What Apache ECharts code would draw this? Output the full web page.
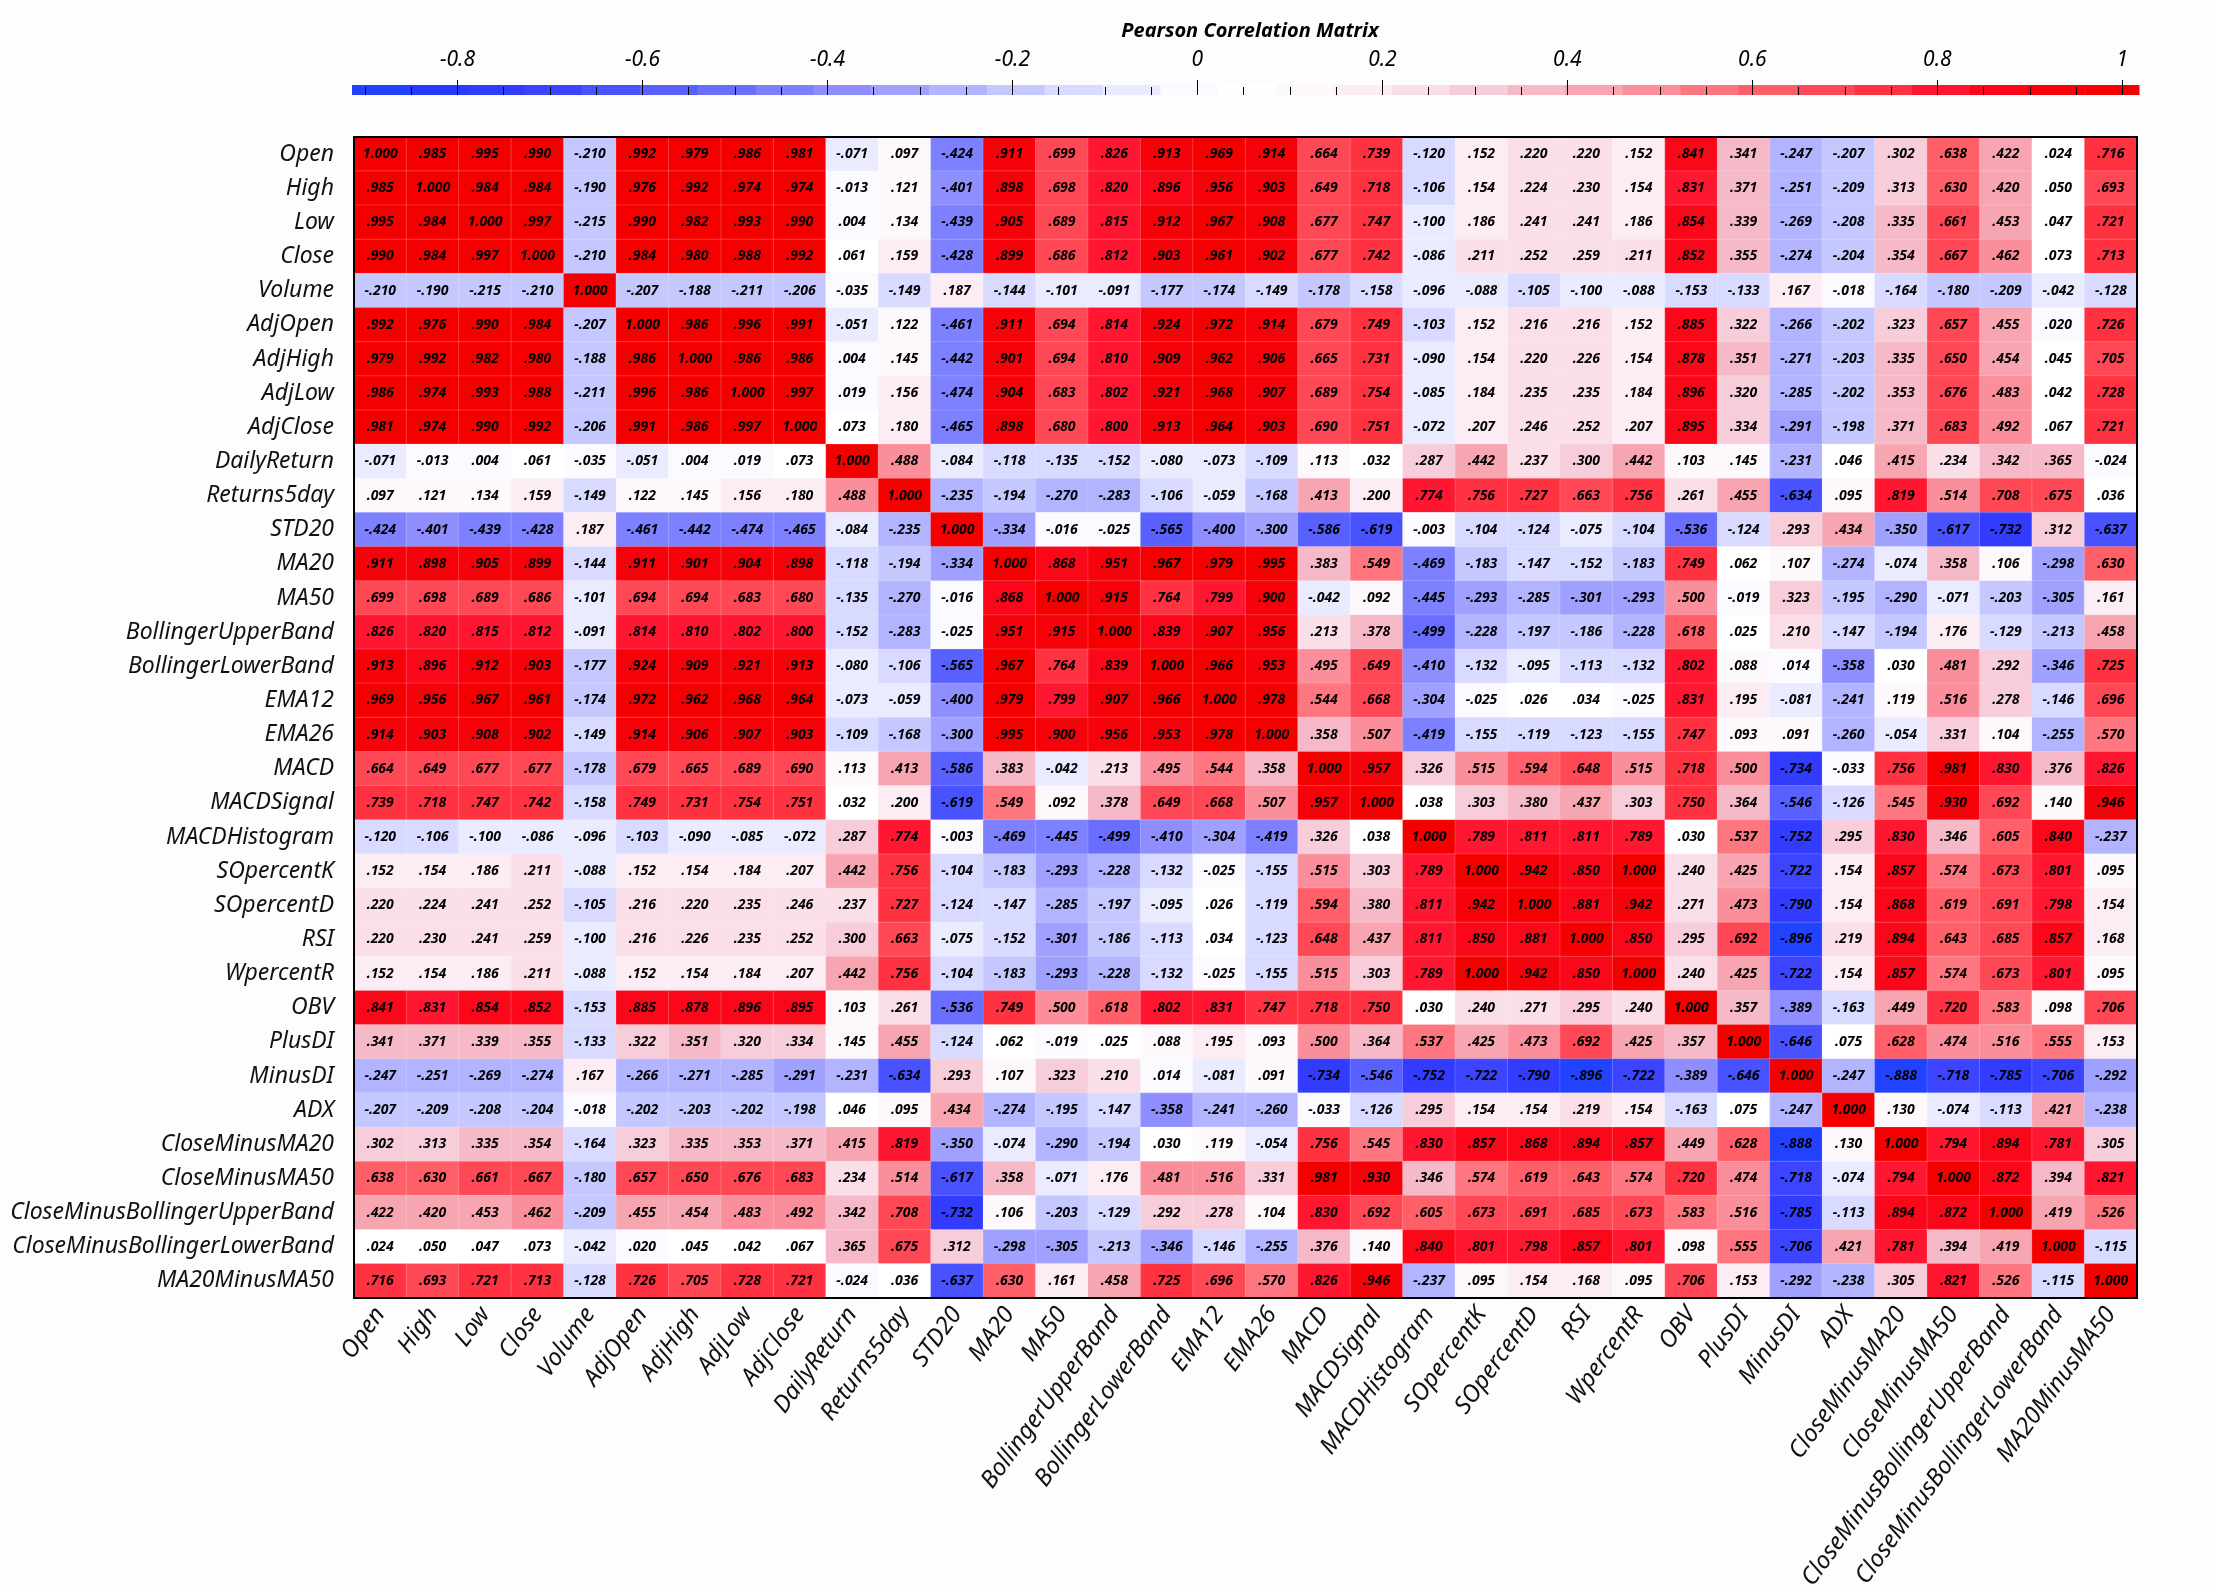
<!DOCTYPE html>
<html><head><meta charset="utf-8">
<script src="https://cdn.jsdelivr.net/npm/echarts@6/dist/echarts.min.js"></script>
<style>html,body{margin:0;padding:0;background:#fdfdfe}#c{width:2216px;height:1592px}</style>
</head><body><div id="c"></div>
<script>
const variables = ["Open","High","Low","Close","Volume","AdjOpen","AdjHigh","AdjLow","AdjClose","DailyReturn","Returns5day","STD20","MA20","MA50","BollingerUpperBand","BollingerLowerBand","EMA12","EMA26","MACD","MACDSignal","MACDHistogram","SOpercentK","SOpercentD","RSI","WpercentR","OBV","PlusDI","MinusDI","ADX","CloseMinusMA20","CloseMinusMA50","CloseMinusBollingerUpperBand","CloseMinusBollingerLowerBand","MA20MinusMA50"];

const rOpen = [1.000,.985,.995,.990,-.210,.992,.979,.986,.981,-.071,.097,-.424,.911,.699,.826,.913,.969,.914,.664,.739,-.120,.152,.220,.220,.152,.841,.341,-.247,-.207,.302,.638,.422,.024,.716];
const rHigh = [.985,1.000,.984,.984,-.190,.976,.992,.974,.974,-.013,.121,-.401,.898,.698,.820,.896,.956,.903,.649,.718,-.106,.154,.224,.230,.154,.831,.371,-.251,-.209,.313,.630,.420,.050,.693];
const rLow = [.995,.984,1.000,.997,-.215,.990,.982,.993,.990,.004,.134,-.439,.905,.689,.815,.912,.967,.908,.677,.747,-.100,.186,.241,.241,.186,.854,.339,-.269,-.208,.335,.661,.453,.047,.721];
const rClose = [.990,.984,.997,1.000,-.210,.984,.980,.988,.992,.061,.159,-.428,.899,.686,.812,.903,.961,.902,.677,.742,-.086,.211,.252,.259,.211,.852,.355,-.274,-.204,.354,.667,.462,.073,.713];
const rVolume = [-.210,-.190,-.215,-.210,1.000,-.207,-.188,-.211,-.206,-.035,-.149,.187,-.144,-.101,-.091,-.177,-.174,-.149,-.178,-.158,-.096,-.088,-.105,-.100,-.088,-.153,-.133,.167,-.018,-.164,-.180,-.209,-.042,-.128];
const rAdjOpen = [.992,.976,.990,.984,-.207,1.000,.986,.996,.991,-.051,.122,-.461,.911,.694,.814,.924,.972,.914,.679,.749,-.103,.152,.216,.216,.152,.885,.322,-.266,-.202,.323,.657,.455,.020,.726];
const rAdjHigh = [.979,.992,.982,.980,-.188,.986,1.000,.986,.986,.004,.145,-.442,.901,.694,.810,.909,.962,.906,.665,.731,-.090,.154,.220,.226,.154,.878,.351,-.271,-.203,.335,.650,.454,.045,.705];
const rAdjLow = [.986,.974,.993,.988,-.211,.996,.986,1.000,.997,.019,.156,-.474,.904,.683,.802,.921,.968,.907,.689,.754,-.085,.184,.235,.235,.184,.896,.320,-.285,-.202,.353,.676,.483,.042,.728];
const rAdjClose = [.981,.974,.990,.992,-.206,.991,.986,.997,1.000,.073,.180,-.465,.898,.680,.800,.913,.964,.903,.690,.751,-.072,.207,.246,.252,.207,.895,.334,-.291,-.198,.371,.683,.492,.067,.721];
const rDailyReturn = [-.071,-.013,.004,.061,-.035,-.051,.004,.019,.073,1.000,.488,-.084,-.118,-.135,-.152,-.080,-.073,-.109,.113,.032,.287,.442,.237,.300,.442,.103,.145,-.231,.046,.415,.234,.342,.365,-.024];
const rReturns5day = [.097,.121,.134,.159,-.149,.122,.145,.156,.180,.488,1.000,-.235,-.194,-.270,-.283,-.106,-.059,-.168,.413,.200,.774,.756,.727,.663,.756,.261,.455,-.634,.095,.819,.514,.708,.675,.036];
const rSTD20 = [-.424,-.401,-.439,-.428,.187,-.461,-.442,-.474,-.465,-.084,-.235,1.000,-.334,-.016,-.025,-.565,-.400,-.300,-.586,-.619,-.003,-.104,-.124,-.075,-.104,-.536,-.124,.293,.434,-.350,-.617,-.732,.312,-.637];
const rMA20 = [.911,.898,.905,.899,-.144,.911,.901,.904,.898,-.118,-.194,-.334,1.000,.868,.951,.967,.979,.995,.383,.549,-.469,-.183,-.147,-.152,-.183,.749,.062,.107,-.274,-.074,.358,.106,-.298,.630];
const rMA50 = [.699,.698,.689,.686,-.101,.694,.694,.683,.680,-.135,-.270,-.016,.868,1.000,.915,.764,.799,.900,-.042,.092,-.445,-.293,-.285,-.301,-.293,.500,-.019,.323,-.195,-.290,-.071,-.203,-.305,.161];
const rBollingerUpperBand = [.826,.820,.815,.812,-.091,.814,.810,.802,.800,-.152,-.283,-.025,.951,.915,1.000,.839,.907,.956,.213,.378,-.499,-.228,-.197,-.186,-.228,.618,.025,.210,-.147,-.194,.176,-.129,-.213,.458];
const rBollingerLowerBand = [.913,.896,.912,.903,-.177,.924,.909,.921,.913,-.080,-.106,-.565,.967,.764,.839,1.000,.966,.953,.495,.649,-.410,-.132,-.095,-.113,-.132,.802,.088,.014,-.358,.030,.481,.292,-.346,.725];
const rEMA12 = [.969,.956,.967,.961,-.174,.972,.962,.968,.964,-.073,-.059,-.400,.979,.799,.907,.966,1.000,.978,.544,.668,-.304,-.025,.026,.034,-.025,.831,.195,-.081,-.241,.119,.516,.278,-.146,.696];
const rEMA26 = [.914,.903,.908,.902,-.149,.914,.906,.907,.903,-.109,-.168,-.300,.995,.900,.956,.953,.978,1.000,.358,.507,-.419,-.155,-.119,-.123,-.155,.747,.093,.091,-.260,-.054,.331,.104,-.255,.570];
const rMACD = [.664,.649,.677,.677,-.178,.679,.665,.689,.690,.113,.413,-.586,.383,-.042,.213,.495,.544,.358,1.000,.957,.326,.515,.594,.648,.515,.718,.500,-.734,-.033,.756,.981,.830,.376,.826];
const rMACDSignal = [.739,.718,.747,.742,-.158,.749,.731,.754,.751,.032,.200,-.619,.549,.092,.378,.649,.668,.507,.957,1.000,.038,.303,.380,.437,.303,.750,.364,-.546,-.126,.545,.930,.692,.140,.946];
const rMACDHistogram = [-.120,-.106,-.100,-.086,-.096,-.103,-.090,-.085,-.072,.287,.774,-.003,-.469,-.445,-.499,-.410,-.304,-.419,.326,.038,1.000,.789,.811,.811,.789,.030,.537,-.752,.295,.830,.346,.605,.840,-.237];
const rSOpercentK = [.152,.154,.186,.211,-.088,.152,.154,.184,.207,.442,.756,-.104,-.183,-.293,-.228,-.132,-.025,-.155,.515,.303,.789,1.000,.942,.850,1.000,.240,.425,-.722,.154,.857,.574,.673,.801,.095];
const rSOpercentD = [.220,.224,.241,.252,-.105,.216,.220,.235,.246,.237,.727,-.124,-.147,-.285,-.197,-.095,.026,-.119,.594,.380,.811,.942,1.000,.881,.942,.271,.473,-.790,.154,.868,.619,.691,.798,.154];
const rRSI = [.220,.230,.241,.259,-.100,.216,.226,.235,.252,.300,.663,-.075,-.152,-.301,-.186,-.113,.034,-.123,.648,.437,.811,.850,.881,1.000,.850,.295,.692,-.896,.219,.894,.643,.685,.857,.168];
const rWpercentR = [.152,.154,.186,.211,-.088,.152,.154,.184,.207,.442,.756,-.104,-.183,-.293,-.228,-.132,-.025,-.155,.515,.303,.789,1.000,.942,.850,1.000,.240,.425,-.722,.154,.857,.574,.673,.801,.095];
const rOBV = [.841,.831,.854,.852,-.153,.885,.878,.896,.895,.103,.261,-.536,.749,.500,.618,.802,.831,.747,.718,.750,.030,.240,.271,.295,.240,1.000,.357,-.389,-.163,.449,.720,.583,.098,.706];
const rPlusDI = [.341,.371,.339,.355,-.133,.322,.351,.320,.334,.145,.455,-.124,.062,-.019,.025,.088,.195,.093,.500,.364,.537,.425,.473,.692,.425,.357,1.000,-.646,.075,.628,.474,.516,.555,.153];
const rMinusDI = [-.247,-.251,-.269,-.274,.167,-.266,-.271,-.285,-.291,-.231,-.634,.293,.107,.323,.210,.014,-.081,.091,-.734,-.546,-.752,-.722,-.790,-.896,-.722,-.389,-.646,1.000,-.247,-.888,-.718,-.785,-.706,-.292];
const rADX = [-.207,-.209,-.208,-.204,-.018,-.202,-.203,-.202,-.198,.046,.095,.434,-.274,-.195,-.147,-.358,-.241,-.260,-.033,-.126,.295,.154,.154,.219,.154,-.163,.075,-.247,1.000,.130,-.074,-.113,.421,-.238];
const rCloseMinusMA20 = [.302,.313,.335,.354,-.164,.323,.335,.353,.371,.415,.819,-.350,-.074,-.290,-.194,.030,.119,-.054,.756,.545,.830,.857,.868,.894,.857,.449,.628,-.888,.130,1.000,.794,.894,.781,.305];
const rCloseMinusMA50 = [.638,.630,.661,.667,-.180,.657,.650,.676,.683,.234,.514,-.617,.358,-.071,.176,.481,.516,.331,.981,.930,.346,.574,.619,.643,.574,.720,.474,-.718,-.074,.794,1.000,.872,.394,.821];
const rCloseMinusBollingerUpperBand = [.422,.420,.453,.462,-.209,.455,.454,.483,.492,.342,.708,-.732,.106,-.203,-.129,.292,.278,.104,.830,.692,.605,.673,.691,.685,.673,.583,.516,-.785,-.113,.894,.872,1.000,.419,.526];
const rCloseMinusBollingerLowerBand = [.024,.050,.047,.073,-.042,.020,.045,.042,.067,.365,.675,.312,-.298,-.305,-.213,-.346,-.146,-.255,.376,.140,.840,.801,.798,.857,.801,.098,.555,-.706,.421,.781,.394,.419,1.000,-.115];
const rMA20MinusMA50 = [.716,.693,.721,.713,-.128,.726,.705,.728,.721,-.024,.036,-.637,.630,.161,.458,.725,.696,.570,.826,.946,-.237,.095,.154,.168,.095,.706,.153,-.292,-.238,.305,.821,.526,-.115,1.000];

const matrixRows = [rOpen,rHigh,rLow,rClose,rVolume,rAdjOpen,rAdjHigh,rAdjLow,rAdjClose,rDailyReturn,rReturns5day,rSTD20,rMA20,rMA50,rBollingerUpperBand,rBollingerLowerBand,rEMA12,rEMA26,rMACD,rMACDSignal,rMACDHistogram,rSOpercentK,rSOpercentD,rRSI,rWpercentR,rOBV,rPlusDI,rMinusDI,rADX,rCloseMinusMA20,rCloseMinusMA50,rCloseMinusBollingerUpperBand,rCloseMinusBollingerLowerBand,rMA20MinusMA50];

const colorbarMin = -0.914, colorbarMax = 1.018;
const colorbarTicks = [-0.8,-0.6,-0.4,-0.2,0,0.2,0.4,0.6,0.8,1];
const colorbarMinorTicks = [-0.9,-0.85,-0.75,-0.7,-0.65,-0.55,-0.5,-0.45,-0.35,-0.3,-0.25,-0.15,-0.1,-0.05,0.05,0.1,0.15,0.25,0.3,0.35,0.45,0.5,0.55,0.65,0.7,0.75,0.85,0.9,0.95];
const binEdges = [-0.915,-0.8525,-0.79,-0.7275,-0.665,-0.6025,-0.54,-0.4775,-0.415,-0.3525,-0.29,-0.2275,-0.165,-0.1025,-0.04,0.0225,0.085,0.1475,0.21,0.2725,0.335,0.3975,0.46,0.5225,0.585,0.6475,0.71,0.7725,0.835,0.8975,0.96,1.0225];
const binColors = ['#2142ff','#283aff','#323cff','#3c44ff','#4852ff','#5860ff','#696eff','#7d80ff','#8e8eff','#a0a0ff','#b2b4ff','#c5c7ff','#d8daff','#eaebff','#fafaff','#ffffff','#fdf8fc','#fcecf4','#fadee8','#f8cdda','#f6b9c8','#f8a5b2','#fa8e9a','#fd7680','#ff5f69','#ff4855','#ff3241','#ff1630','#fa0819','#f6020a','#f50000'];

const FONT = "'Noto Sans', 'Open Sans', sans-serif";

const heatData = [];
matrixRows.forEach((row, yi) => row.forEach((v, xi) => heatData.push([xi, yi, v])));

const pieces = binColors.map((c, i) => ({gte: binEdges[i], lt: binEdges[i + 1], color: c}));

const barData = [];
for (let i = 0; i < binColors.length; i++) {
  const a = Math.max(binEdges[i], colorbarMin), b = Math.min(binEdges[i + 1], colorbarMax);
  if (b > a) barData.push([a, b, (binEdges[i] + binEdges[i + 1]) / 2]);
}

function fmt(v) {
  return v.toFixed(3).replace(/^(-?)0\./, '$1.');
}

const chart = echarts.init(document.getElementById('c'), null, {renderer: 'canvas'});
chart.setOption({
  backgroundColor: '#fdfdfe',
  animation: false,
  title: {
    text: 'Pearson Correlation Matrix', left: 1245, top: 16, textAlign: 'center',
    textStyle: {fontFamily: FONT, fontSize: 20, fontWeight: 'bold', fontStyle: 'italic', color: '#000'}
  },
  visualMap: {
    type: 'piecewise', show: false, dimension: 2, seriesIndex: [0, 1], pieces: pieces
  },
  grid: [
    {left: 354, top: 137, width: 1783, height: 1161, containLabel: false, outerBoundsMode: 'none'},
    {left: 352, top: 85, width: 1787, height: 10, containLabel: false, outerBoundsMode: 'none'}
  ],
  xAxis: [
    {type: 'category', gridIndex: 0, data: variables, position: 'bottom',
     axisLine: {lineStyle: {color: '#000', width: 2}},
     axisTick: {length: 12, lineStyle: {color: '#000', width: 1.5}},
     axisLabel: {rotate: 54, margin: 12, fontFamily: FONT, fontSize: 24, fontStyle: 'italic', color: '#111'},
     splitLine: {show: false}, z: 5},
    {type: 'category', gridIndex: 0, data: variables, position: 'top',
     axisLine: {lineStyle: {color: '#000', width: 2}}, axisTick: {show: false}, axisLabel: {show: false}, z: 5},
    {type: 'value', gridIndex: 1, min: colorbarMin, max: colorbarMax, position: 'bottom',
     axisLine: {show: false}, splitLine: {show: false}, axisLabel: {show: false},
     axisTick: {show: true, inside: true, length: 15, customValues: colorbarTicks, lineStyle: {color: '#000', width: 1}}, z: 10},
    {type: 'value', gridIndex: 1, min: colorbarMin, max: colorbarMax, position: 'bottom',
     axisLine: {show: false}, splitLine: {show: false}, axisLabel: {show: false},
     axisTick: {show: true, inside: true, length: 8, customValues: colorbarMinorTicks, lineStyle: {color: '#000', width: 1}}, z: 10},
    {type: 'value', gridIndex: 1, min: colorbarMin, max: colorbarMax, position: 'top',
     axisLine: {show: false}, splitLine: {show: false}, axisTick: {show: false},
     axisLabel: {show: true, customValues: colorbarTicks, margin: 14, fontFamily: FONT, fontSize: 21, fontStyle: 'italic', color: '#000'}}
  ],
  yAxis: [
    {type: 'category', gridIndex: 0, data: variables, inverse: true, position: 'left',
     axisLine: {lineStyle: {color: '#000', width: 2}},
     axisTick: {length: 10, lineStyle: {color: '#000', width: 1.5}},
     axisLabel: {margin: 20, fontFamily: FONT, fontSize: 23, fontStyle: 'italic', color: '#111'},
     splitLine: {show: false}, z: 5},
    {type: 'category', gridIndex: 0, data: variables, inverse: true, position: 'right',
     axisLine: {lineStyle: {color: '#000', width: 2}}, axisTick: {show: false}, axisLabel: {show: false}, z: 5},
    {type: 'value', gridIndex: 1, min: 0, max: 1, show: false}
  ],
  series: [
    {type: 'heatmap', xAxisIndex: 0, yAxisIndex: 0, data: heatData,
     itemStyle: {borderColor: 'rgba(255,255,255,0.18)', borderWidth: 1},
     label: {show: true, formatter: p => fmt(p.value[2]), fontFamily: FONT, fontSize: 14, fontWeight: 'bold', fontStyle: 'italic', color: '#000'},
     emphasis: {disabled: true}},
    {type: 'custom', xAxisIndex: 2, yAxisIndex: 2, data: barData,
     renderItem: function (params, api) {
       const p0 = api.coord([api.value(0), 0]);
       const p1 = api.coord([api.value(1), 1]);
       return {type: 'rect', shape: {x: p0[0], y: p1[1], width: p1[0] - p0[0] + 0.5, height: p0[1] - p1[1]},
               style: {fill: api.visual('color')}};
     }}
  ]
});
</script></body></html>
